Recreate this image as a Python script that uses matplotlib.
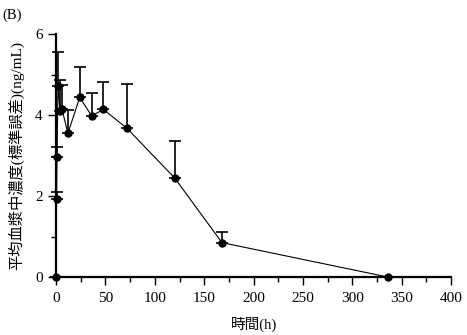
import matplotlib
matplotlib.use("Agg")
import matplotlib.pyplot as plt
import numpy as np

# 時間 (h) と平均血漿中濃度 (ng/mL)
times = [0, 0.5, 1, 2, 4, 6, 12, 24, 36, 48, 72, 120, 168, 336]
conc = [0, 1.93, 2.97, 4.72, 4.11, 4.15, 3.55, 4.44, 3.98, 4.14, 3.67, 2.45, 0.85, 0]
upper = [0, 2.09, 3.22, 5.56, 4.86, 4.74, 4.12, 5.19, 4.55, 4.82, 4.78, 3.37, 1.12, 0]

xticks = [0, 50, 100, 150, 200, 250, 300, 350, 400]
yticks = [0, 2, 4, 6]

plt.rcParams['font.family'] = ['Liberation Serif', 'Noto Sans CJK JP']

fig = plt.figure(figsize=(4.67, 3.35), dpi=100)
ax = fig.add_axes([0.12, 0.173, 0.846, 0.725])

err = np.array(upper) - np.array(conc)
ax.errorbar(times, conc, yerr=[np.zeros(len(err)), err], fmt='o-', color='black',
            markersize=5, linewidth=0.8, elinewidth=1.2, capsize=4, capthick=1.2,
            clip_on=False, zorder=3)

ax.set_xlim(0, 400)
ax.set_ylim(0, 6)
ax.set_xticks(xticks)
ax.set_yticks(yticks)
ax.set_xticks(np.arange(25, 400, 50), minor=True)
ax.set_yticks([1, 3, 5], minor=True)
ax.tick_params(axis='both', which='major', length=6, width=1, labelsize=11, direction='out')
ax.tick_params(axis='x', which='major', pad=5)
ax.tick_params(axis='both', which='minor', length=3.5, width=1, direction='out')

for s in ['top', 'right']:
    ax.spines[s].set_visible(False)
for s in ['left', 'bottom']:
    ax.spines[s].set_linewidth(1.6)

ax.set_xlabel('時間(h)', fontsize=10.5, labelpad=8)
ax.set_ylabel('平均血漿中濃度(標準誤差)(ng/mL)', fontsize=11, labelpad=8)
fig.text(0.005, 0.975, '(B)', fontsize=10.5, va='top', ha='left')

fig.savefig('out.png', dpi=100)
